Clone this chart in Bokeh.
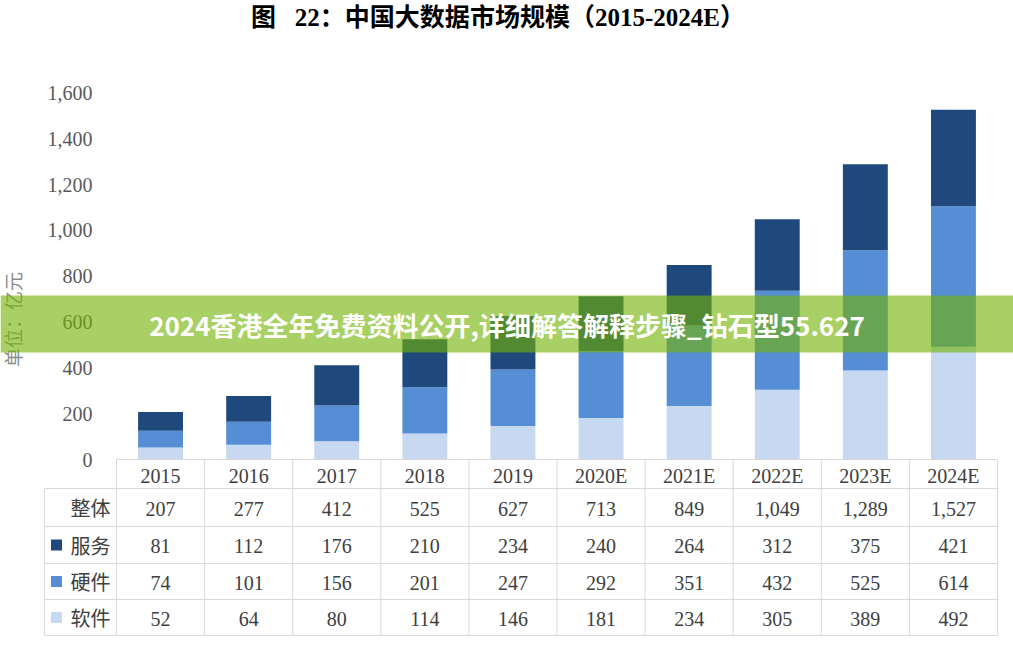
from bokeh.plotting import figure
from bokeh.models import (Range1d, LinearAxis, FixedTicker, NumeralTickFormatter,
                          BoxAnnotation, Label, ColumnDataSource)
from bokeh.core.properties import value
from bokeh.embed import file_html
from bokeh.resources import INLINE

# ---------------- data ----------------
years = ["2015", "2016", "2017", "2018", "2019", "2020E", "2021E", "2022E", "2023E", "2024E"]
total = [207, 277, 412, 525, 627, 713, 849, 1049, 1289, 1527]
service = [81, 112, 176, 210, 234, 240, 264, 312, 375, 421]
hardware = [74, 101, 156, 201, 247, 292, 351, 432, 525, 614]
software = [52, 64, 80, 114, 146, 181, 234, 305, 389, 492]
y_ticks = [0, 200, 400, 600, 800, 1000, 1200, 1400, 1600]
row_labels = ["整体", "服务", "硬件", "软件"]
title_text = "图\u00a0\u00a0\u00a022：中国大数据市场规模（2015-2024E）"
unit_label = "单位：亿元"
banner_text = "2024香港全年免费资料公开,详细解答解释步骤_钻石型55.627"

# ---------------- layout constants (pixels) ----------------
W, H = 1013, 649
COL0, COLW = 116.0, 88.1
Y0PX, YTOPPX, YTOPVAL = 459.0, 92.5, 1600.0
scale = (Y0PX - YTOPPX) / YTOPVAL

C_SERV, C_HARD, C_SOFT = "#1F497D", "#558ED5", "#C6D9F1"
GRID = "#D9D9D9"
SERIF = "'Liberation Serif', 'Noto Sans CJK SC'"

p = figure(width=W, height=H, output_backend="svg", toolbar_location=None, tools="",
           x_range=Range1d(-COL0 / COLW - 0.5, (W - COL0) / COLW - 0.5),
           y_range=Range1d(-(H - Y0PX) / scale, Y0PX / scale),
           x_axis_location=None, y_axis_location=None, min_border=0,
           title=None)
p.outline_line_color = None
p.xgrid.visible = False
p.ygrid.visible = False
p.background_fill_color = "white"
p.border_fill_color = "white"
p.extra_x_ranges = {"px": Range1d(0, W)}
p.extra_y_ranges = {"px": Range1d(H, 0)}

# ---------------- stacked bars ----------------
src = ColumnDataSource(dict(x=list(range(len(years))), 软件=software, 硬件=hardware, 服务=service))
p.vbar_stack(["软件", "硬件", "服务"], x="x", width=0.51, source=src,
             color=[C_SOFT, C_HARD, C_SERV], line_color=None)

# ---------------- axes ----------------
yax = LinearAxis(fixed_location=(100 - COL0) / COLW - 0.5,
                 ticker=FixedTicker(ticks=y_ticks),
                 formatter=NumeralTickFormatter(format="0,0"))
yax.axis_line_color = None
yax.major_tick_line_color = None
yax.minor_tick_line_color = None
yax.major_tick_in = 0
yax.major_tick_out = 0
yax.major_label_standoff = 8
yax.major_label_text_font = "Liberation Serif"
yax.major_label_text_font_size = "20px"
yax.major_label_text_color = "#595959"
p.add_layout(yax, "left")

xax = LinearAxis(fixed_location=0,
                 ticker=FixedTicker(ticks=list(range(len(years)))),
                 major_label_overrides={i: y for i, y in enumerate(years)})
xax.axis_line_color = None
xax.major_tick_line_color = None
xax.minor_tick_line_color = None
xax.major_tick_in = 0
xax.major_tick_out = 0
xax.major_label_standoff = 5
xax.major_label_text_font = "Liberation Serif"
xax.major_label_text_font_size = "20px"
xax.major_label_text_color = "#404040"
p.add_layout(xax, "below")

# ---------------- table grid ----------------
n = len(years)
right = COL0 + COLW * n
row_edges = [488, 526, 563, 599, 635]
hx0, hx1, hy0, hy1 = [COL0], [right], [Y0PX], [Y0PX]
for y in row_edges:
    hx0.append(44); hx1.append(right); hy0.append(y); hy1.append(y)
p.segment(x0=hx0, x1=hx1, y0=hy0, y1=hy1, x_range_name="px", y_range_name="px",
          line_color=GRID, line_width=1)
vx = [44] + [COL0 + COLW * k for k in range(n + 1)]
vy0 = [488] + [Y0PX] * (n + 1)
p.segment(x0=vx, x1=vx, y0=vy0, y1=[635] * len(vx), x_range_name="px", y_range_name="px",
          line_color=GRID, line_width=1)

# ---------------- table text ----------------
row_centers = [(row_edges[k] + row_edges[k + 1]) / 2 for k in range(4)]
rows = [total, service, hardware, software]
tx, ty, tt = [], [], []
for r, vals in enumerate(rows):
    for i, v in enumerate(vals):
        tx.append(COL0 + COLW * (i + 0.5))
        ty.append(row_centers[r] + 1)
        tt.append(f"{v:,}")
p.text(x=tx, y=ty, text=tt, x_range_name="px", y_range_name="px",
       text_font=value("Liberation Serif"), text_font_size="20px", text_color="#404040",
       text_align="center", text_baseline="middle")
p.text(x=[110] * 4, y=row_centers, text=row_labels, x_range_name="px", y_range_name="px",
       text_font=value("Noto Sans CJK SC"), text_font_size="20px", text_color="#404040",
       text_align="right", text_baseline="middle")
p.rect(x=[56] * 3, y=row_centers[1:], width=11, height=11, x_range_name="px", y_range_name="px",
       fill_color=[C_SERV, C_HARD, C_SOFT], line_color=None)

# ---------------- title & unit label ----------------
p.text(x=[W / 2 - 9], y=[17], text=[title_text], x_range_name="px", y_range_name="px",
       text_font=value(SERIF), text_font_size="25px", text_font_style="bold",
       text_color="#000000", text_align="center", text_baseline="middle")
p.text(x=[12], y=[319], text=[unit_label], x_range_name="px", y_range_name="px",
       angle=1.5708, text_font=value("Noto Sans CJK SC"), text_font_size="19px",
       text_color="#8C8C8C", text_align="center", text_baseline="middle")

# ---------------- banner overlay ----------------
banner = BoxAnnotation(left=0, right=W, top=295, bottom=352, x_range_name="px", y_range_name="px",
                       fill_color="#72B305", fill_alpha=0.62, line_color=None)
p.add_layout(banner)
p.add_layout(Label(x=W / 2, y=324, text=banner_text, x_range_name="px", y_range_name="px",
                   text_font="Noto Sans CJK SC", text_font_size="26px", text_font_style="bold",
                   text_color="white", text_align="center", text_baseline="middle"))

open("out.html", "w").write(file_html(p, INLINE))
